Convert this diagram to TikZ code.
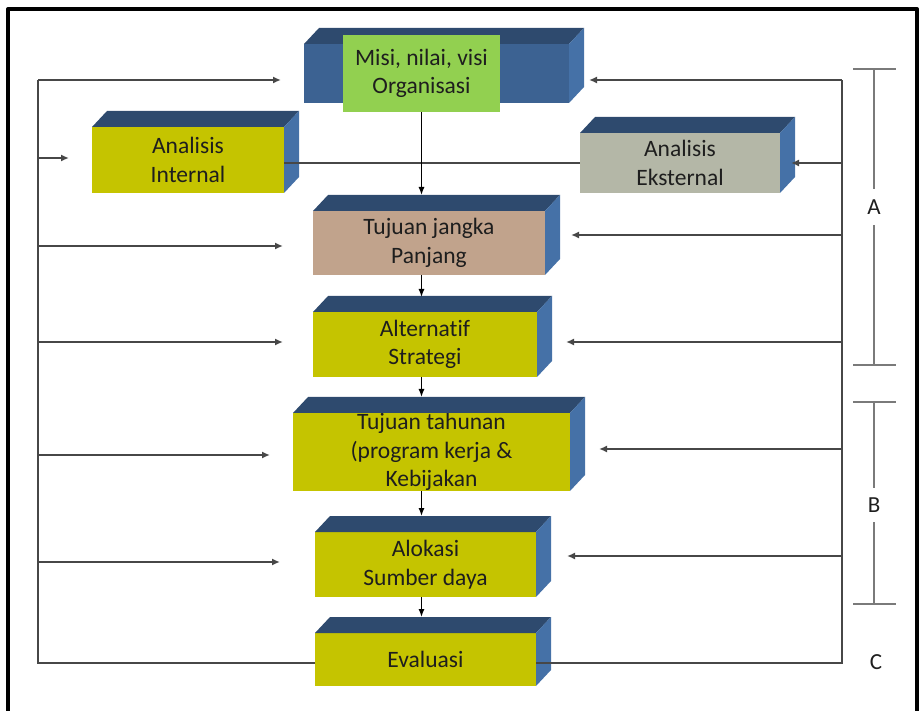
\documentclass[tikz,border=0pt]{standalone}
\usepackage{fontspec}
\setmainfont[Ligatures=NoCommon]{Carlito}
\usetikzlibrary{arrows.meta}

\definecolor{topc}{HTML}{2E4A6E}
\definecolor{sidec}{HTML}{4571A7}
\definecolor{bluef}{HTML}{3C6292}
\definecolor{olive}{HTML}{C5C400}
\definecolor{leaf}{HTML}{92D050}
\definecolor{tanc}{HTML}{C1A38C}
\definecolor{stone}{HTML}{B4B7A7}
\definecolor{ink}{HTML}{1E1E1E}
\definecolor{wire}{HTML}{474747}
\definecolor{tick}{HTML}{7A7A7A}

\tikzset{
  face/.style={inner sep=0pt, outer sep=0pt, align=center, text=ink,
    font=\fontsize{23.5}{28.5}\selectfont},
  conn/.style={draw=wire, line width=1.8pt},
  arr/.style={conn, -{Latex[length=8pt,width=7pt]}},
  down/.style={draw=black, line width=1.2pt, -{Latex[length=8pt,width=6pt]}},
  brk/.style={draw=tick, line width=1.6pt},
  lbl/.style={inner sep=0pt, outer sep=0pt, text=ink, font=\fontsize{23}{26}\selectfont},
}

% 3-D block: name, left, top, right, bottom, front colour, text
\newcommand\blockbox[7]{%
  \node[face, fill=#6, minimum width={(#4-#2)*1pt}, minimum height={(#5-#3)*1pt}]
    (#1) at ({(#2+#4)/2},{(#3+#5)/2}) {#7};
  \fill[topc] (#1.north west) -- ++(15,-16) -- ([shift={(15,-16)}]#1.north east)
    -- (#1.north east) -- cycle;
  \fill[sidec] (#1.north east) -- ++(15,-16) -- ([shift={(15,-16)}]#1.south east)
    -- (#1.south east) -- cycle;
}

\begin{document}
\begin{tikzpicture}[x=1pt, y=-1pt]
\useasboundingbox (0,0) rectangle (919,711);

% outer frame, open at the bottom
\draw[line width=4pt, line join=round] (8,711) -- (8,9) -- (917,9) -- (917,711);

% blocks
\blockbox{mblk}{304}{44}{569}{103}{bluef}{}
\node[face, fill=leaf, minimum width=157pt, minimum height=77pt] (misi) at (421.5,73.5)
  {Misi, nilai, visi\\Organisasi};
\blockbox{intl}{92}{127}{284}{193}{olive}{Analisis\\Internal}
\blockbox{eks}{580}{133}{780}{193}{stone}{Analisis\\Eksternal}
\blockbox{tjp}{313}{211}{545}{275}{tanc}{Tujuan jangka\\Panjang}
\blockbox{alt}{313}{312}{537}{377}{olive}{Alternatif\\Strategi}
\blockbox{tth}{293}{413}{570}{491}{olive}{Tujuan tahunan\\(program kerja \&\\Kebijakan}
\blockbox{alo}{315}{532}{536}{597}{olive}{Alokasi\\Sumber daya}
\blockbox{eva}{315}{633}{536}{686}{olive}{Evaluasi}

% feedback buses
\coordinate (lbus) at (38,80);
\coordinate (rbus) at (842,80);
\draw[conn] (eva.west |- 0,663) -| (lbus);
\draw[conn] (eva.east |- 0,663) -| (rbus);

% link between the two analyses
\draw[conn] (intl.east |- 0,163) -- (eks.west |- 0,163);

% arrows from the left bus
\draw[arr, shorten >=23pt] (lbus) -- (mblk.west |- lbus);
\draw[arr, shorten >=23pt] (lbus |- 0,158) -- (intl.west |- 0,158);
\draw[arr, shorten >=30pt] (lbus |- 0,246) -- (tjp.west |- 0,246);
\draw[arr, shorten >=30pt] (lbus |- 0,342) -- (alt.west |- 0,342);
\draw[arr, shorten >=23pt] (lbus |- 0,455) -- (tth.west |- 0,455);
\draw[arr, shorten >=35pt] (lbus |- 0,562) -- (alo.west |- 0,562);

% arrows from the right bus
\draw[arr, shorten >=20pt] (rbus) -- (mblk.east |- rbus);
\draw[arr, shorten >=11pt] (rbus |- 0,163) -- (eks.east |- 0,163);
\draw[arr, shorten >=26pt] (rbus |- 0,235) -- (tjp.east |- 0,235);
\draw[arr, shorten >=29pt] (rbus |- 0,342) -- (alt.east |- 0,342);
\draw[arr, shorten >=29pt] (rbus |- 0,449) -- (tth.east |- 0,449);
\draw[arr, shorten >=31pt] (rbus |- 0,556) -- (alo.east |- 0,556);

% main downward chain
\draw[down, shorten >=16pt] (misi.south) -- (tjp.north -| misi.south);
\draw[down, shorten >=15pt] (tjp.south -| misi.south) -- (alt.north -| misi.south);
\draw[down, shorten >=16pt] (alt.south -| misi.south) -- (tth.north -| misi.south);
\draw[down, shorten >=16pt] (tth.south -| misi.south) -- (alo.north -| misi.south);
\draw[down, shorten >=16pt] (alo.south -| misi.south) -- (eva.north -| misi.south);

% phase brackets
\node[lbl, minimum height=36pt] (A) at (874,207) {A};
\coordinate (Atop) at (874,69);
\coordinate (Abot) at (874,365);
\draw[brk] ([xshift=-21pt]Atop) -- ([xshift=22pt]Atop);
\draw[brk] (Atop) -- (A.north);
\draw[brk] (A.south) -- (Abot);
\draw[brk] ([xshift=-21pt]Abot) -- ([xshift=22pt]Abot);

\node[lbl, minimum height=34pt] (B) at (874,505) {B};
\coordinate (Btop) at (874,402);
\coordinate (Bbot) at (874,604);
\draw[brk] ([xshift=-21pt]Btop) -- ([xshift=22pt]Btop);
\draw[brk] (Btop) -- (B.north);
\draw[brk] (B.south) -- (Bbot);
\draw[brk] ([xshift=-21pt]Bbot) -- ([xshift=22pt]Bbot);

\node[lbl] (C) at (876,662) {C};
\end{tikzpicture}
\end{document}
